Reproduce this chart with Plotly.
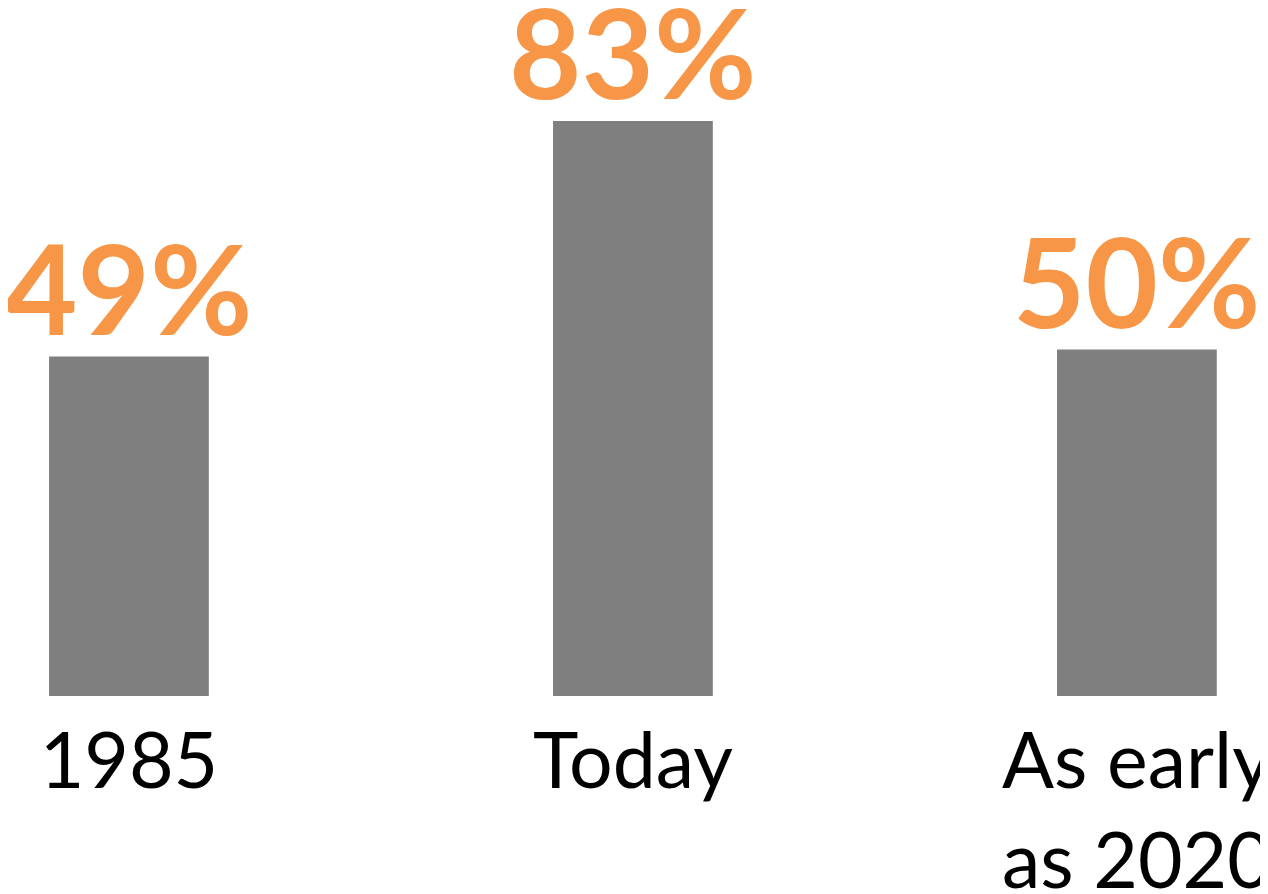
import plotly.graph_objects as go

categories = ["1985", "Today", "As early<br>as 2020"]
values = [49, 83, 50]
labels = ["49%", "83%", "50%"]

fig = go.Figure(
    go.Bar(
        x=categories,
        y=values,
        cliponaxis=False,
        marker=dict(color="#7F7F7F", line=dict(width=0)),
        hoverinfo="skip",
    )
)

# category axis: annotate by category index
for i, (val, lab) in enumerate(zip(values, labels)):
    fig.add_annotation(
        x=i,
        y=val,
        text=lab,
        showarrow=False,
        xanchor="center",
        yanchor="bottom",
        yshift=-7,
        font=dict(family="Lato", size=125, color="#F79646", weight="bold"),
    )

fig.update_layout(
    width=1268,
    height=894,
    margin=dict(l=0, r=0, t=0, b=206),
    paper_bgcolor="white",
    plot_bgcolor="white",
    bargap=0.683,
    showlegend=False,
    xaxis=dict(
        type="category",
        range=[-0.240, 2.276],
        showline=False,
        showgrid=False,
        zeroline=False,
        ticks="",
        tickfont=dict(family="Lato", size=77, color="black"),
        ticklabelstandoff=14,
        automargin=False,
    ),
    yaxis=dict(
        range=[0, 99.3],
        visible=False,
    ),
)

fig.write_html("out.html")
